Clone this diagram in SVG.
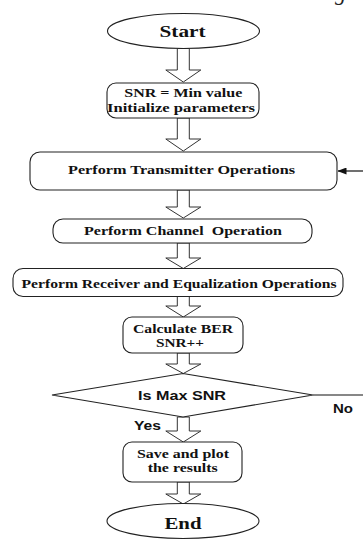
<svg xmlns="http://www.w3.org/2000/svg" width="363" height="541" viewBox="0 0 363 541">
<style>
.shape{fill:#fff;stroke:#222;stroke-width:1.1}
.barrow{fill:#fff;stroke:#333;stroke-width:1}
.line{fill:none;stroke:#111;stroke-width:1.2}
.t{font-family:"Liberation Serif","Times New Roman",serif;font-weight:bold;font-size:12.5px;fill:#111;text-anchor:middle}
.big{font-size:17px}
.s{font-family:"Liberation Sans",Arial,sans-serif;font-weight:bold;font-size:12px;fill:#111}
</style>
<defs>
<marker id="ah" markerWidth="9" markerHeight="7" refX="8.5" refY="3.5" orient="auto" markerUnits="userSpaceOnUse">
<path d="M0,0 L9,3.5 L0,7 Z" fill="#111"/>
</marker>
</defs>
<rect width="363" height="541" fill="#fff"/>
<text x="335" y="0" font-family="Liberation Serif,serif" font-style="italic" font-size="22" fill="#222">g</text>

<g id="connectors">
<path class="barrow" d="M177.3,48.5 V70 H165.8 L183.3,82 L200.8,70 H189.3 V48.5 Z"/>
<path class="barrow" d="M177.3,118 V139 H165.8 L183.3,151 L200.8,139 H189.3 V118 Z"/>
<path class="barrow" d="M177.3,190 V207 H165.8 L183.3,218 L200.8,207 H189.3 V190 Z"/>
<path class="barrow" d="M177.3,243 V258 H165.8 L183.3,268.5 L200.8,258 H189.3 V243 Z"/>
<path class="barrow" d="M177.3,296.5 V306 H165.8 L183.3,317 L200.8,306 H189.3 V296.5 Z"/>
<path class="barrow" d="M177.3,353 V364 H165.8 L183.3,373.5 L200.8,364 H189.3 V353 Z"/>
<path class="barrow" d="M177.3,417 V431 H165.8 L183.3,442 L200.8,431 H189.3 V417 Z"/>
<path class="barrow" d="M177.3,482 V494 H165.8 L183.3,504 L200.8,494 H189.3 V482 Z"/>
<line class="line" x1="313" y1="395" x2="363" y2="395"/>
<line class="line" x1="363" y1="171" x2="338" y2="171" marker-end="url(#ah)"/>
<text class="s" x="134" y="430" textLength="27" lengthAdjust="spacingAndGlyphs">Yes</text>
<text class="s" x="333" y="413" textLength="20" lengthAdjust="spacingAndGlyphs">No</text>
</g>

<g id="start">
<ellipse class="shape" cx="183.5" cy="31" rx="76" ry="17.5"/>
<text class="t big" x="182.5" y="37" textLength="46" lengthAdjust="spacingAndGlyphs">Start</text>
</g>

<g id="init">
<rect class="shape" x="107" y="83" width="152" height="35" rx="9"/>
<text class="t" x="183.3" y="97" textLength="118" lengthAdjust="spacingAndGlyphs">SNR = Min value</text>
<text class="t" x="181" y="112" textLength="148" lengthAdjust="spacingAndGlyphs">Initialize parameters</text>
</g>

<g id="transmitter">
<rect class="shape" x="30" y="152" width="307" height="38" rx="10"/>
<text class="t" x="181.5" y="174" textLength="227" lengthAdjust="spacingAndGlyphs">Perform Transmitter Operations</text>
</g>

<g id="channel">
<rect class="shape" x="53" y="219" width="259" height="24" rx="10"/>
<text class="t" x="183" y="235" textLength="198" lengthAdjust="spacingAndGlyphs" xml:space="preserve">Perform Channel  Operation</text>
</g>

<g id="receiver">
<rect class="shape" x="13" y="268.5" width="330" height="28" rx="10"/>
<text class="t" x="179" y="288" textLength="315" lengthAdjust="spacingAndGlyphs">Perform Receiver and Equalization Operations</text>
</g>

<g id="calc">
<rect class="shape" x="123" y="317" width="120" height="36" rx="9"/>
<text class="t" x="183" y="333" textLength="100" lengthAdjust="spacingAndGlyphs">Calculate BER</text>
<text class="t" x="180" y="347" textLength="48" lengthAdjust="spacingAndGlyphs">SNR++</text>
</g>

<g id="decision">
<polygon class="shape" points="52,395 183,373.5 313,395 183,417"/>
<text class="s" x="182" y="400" text-anchor="middle" textLength="88" lengthAdjust="spacingAndGlyphs">Is Max SNR</text>
</g>

<g id="save">
<rect class="shape" x="123" y="442" width="119" height="40" rx="9"/>
<text class="t" x="183" y="458" textLength="92" lengthAdjust="spacingAndGlyphs">Save and plot</text>
<text class="t" x="182.7" y="471.5" textLength="70" lengthAdjust="spacingAndGlyphs">the results</text>
</g>

<g id="end">
<ellipse class="shape" cx="183" cy="521" rx="76" ry="17.5"/>
<text class="t big" x="183" y="529" textLength="37" lengthAdjust="spacingAndGlyphs">End</text>
</g>
</svg>
